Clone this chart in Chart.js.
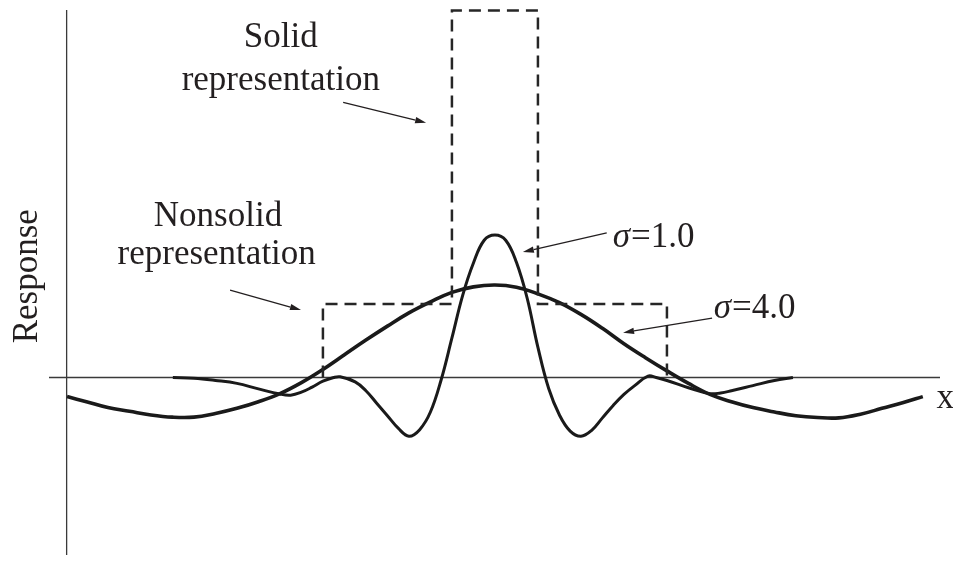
<!DOCTYPE html>
<html>
<head>
<meta charset="utf-8">
<script src="https://cdn.jsdelivr.net/npm/chart.js@4/dist/chart.umd.min.js"></script>
<style>
  html, body { margin: 0; padding: 0; background: #fff; }
  #chart { display: block; }
</style>
</head>
<body>
<canvas id="chart" width="953" height="561"></canvas>
<script>
// Réponse du filtre pour sigma = 4.0 (courbe large)
const sigma4X = [-9.95, -9.5, -9.0, -8.5, -8.0, -7.5, -7.0, -6.5, -6.0, -5.5, -5.0, -4.5, -4.0, -3.5, -3.0, -2.5,
                 -2.0, -1.5, -1.0, -0.5, 0, 0.5, 1.0, 1.5, 2.0, 2.5, 3.0, 3.5, 4.0, 4.5, 5.0, 5.5, 6.0, 6.5, 7.0,
                 7.5, 8.0, 8.5, 9.0, 9.5, 9.95];
const sigma4Y = [-0.26, -0.33, -0.41, -0.46, -0.51, -0.54, -0.54, -0.49, -0.42, -0.33, -0.22, -0.07, 0.11, 0.31,
                 0.51, 0.70, 0.88, 1.03, 1.16, 1.235, 1.26, 1.23, 1.14, 1.02, 0.86, 0.67, 0.46, 0.27, 0.09, -0.08,
                 -0.23, -0.33, -0.41, -0.47, -0.52, -0.545, -0.55, -0.50, -0.42, -0.34, -0.26];

// Réponse du filtre pour sigma = 1.0 (courbe étroite)
const sigma1X = [-7.49, -7.0, -6.5, -6.0, -5.5, -5.0, -4.75, -4.5, -4.25, -4.0, -3.75, -3.6, -3.25, -3.0, -2.75,
                 -2.5, -2.25, -2.0, -1.75, -1.5, -1.25, -1.0, -0.75, -0.5, -0.25, 0, 0.25, 0.5, 0.75, 1.0, 1.25,
                 1.5, 1.75, 2.0, 2.25, 2.5, 2.75, 3.0, 3.25, 3.56, 3.75, 4.0, 4.5, 5.0, 5.25, 5.5, 6.0, 6.5, 6.93];
const sigma1Y = [0.00, -0.01, -0.04, -0.08, -0.155, -0.225, -0.24, -0.20, -0.13, -0.05, 0.00, 0.01, -0.06, -0.18,
                 -0.35, -0.52, -0.69, -0.80, -0.71, -0.47, -0.03, 0.54, 1.12, 1.56, 1.87, 1.94, 1.87, 1.57, 1.08,
                 0.41, -0.15, -0.51, -0.73, -0.80, -0.72, -0.55, -0.38, -0.23, -0.11, 0.02, 0.00, -0.04, -0.14,
                 -0.22, -0.21, -0.18, -0.11, -0.04, 0.00];

// Contour en tirets : représentation solide (étroite) + non solide (large)
const outlineX = [-4, -4, -1, -1, 1, 1, 4, 4];
const outlineY = [0, 1, 1, 5, 5, 1, 1, 0];

const Y_AXIS_AT = -9.96;
const INK = '#231f20';
const FONT = 'Liberation Serif, "Times New Roman", serif';

const toPoints = (xs, ys) => xs.map((x, i) => ({ x: x, y: ys[i] }));

// Textes et flèches, en coordonnées de données
const notes = [
    { text: 'Solid', x: -4.98, y: 4.50 },
    { text: 'representation', x: -4.98, y: 3.92 },
    { text: 'Nonsolid', x: -6.44, y: 2.06 },
    { text: 'representation', x: -6.47, y: 1.54 },
    { sigma: '=1.0', x: 2.74, y: 1.78 },
    { sigma: '=4.0', x: 5.09, y: 0.81 },
    { text: 'x', x: 10.47, y: -0.42 },
];
const arrows = [
    { from: [-3.53, 3.75], to: [-1.60, 3.47] },
    { from: [-6.16, 1.19], to: [-4.51, 0.92] },
    { from: [2.60, 1.97], to: [0.65, 1.71] },
    { from: [5.05, 0.81], to: [2.98, 0.61] },
];

const axisLines = {
    id: 'axisLines',
    beforeDatasetsDraw(chart) {
        const { ctx, chartArea, scales: { x, y } } = chart;
        const y0 = y.getPixelForValue(0);
        const xa = x.getPixelForValue(Y_AXIS_AT);
        ctx.save();
        ctx.strokeStyle = '#3a3a3a';
        ctx.lineWidth = 1.3;
        ctx.beginPath();
        ctx.moveTo(chartArea.left, y0);
        ctx.lineTo(chartArea.right, y0);
        ctx.moveTo(xa, chartArea.top);
        ctx.lineTo(xa, chartArea.bottom);
        ctx.stroke();
        ctx.restore();
    },
};

const annotations = {
    id: 'annotations',
    afterDatasetsDraw(chart) {
        const { ctx, scales: { x, y } } = chart;
        ctx.save();
        ctx.fillStyle = INK;
        ctx.strokeStyle = INK;
        ctx.textBaseline = 'alphabetic';

        notes.forEach(n => {
            const px = x.getPixelForValue(n.x);
            const py = y.getPixelForValue(n.y);
            if (n.sigma) {
                ctx.textAlign = 'left';
                ctx.font = 'italic 35px ' + FONT;
                ctx.fillText('σ', px, py);
                const w = ctx.measureText('σ').width;
                ctx.font = '35px ' + FONT;
                ctx.fillText(n.sigma, px + w + 1, py);
            } else {
                ctx.textAlign = 'center';
                ctx.font = '35px ' + FONT;
                ctx.fillText(n.text, px, py);
            }
        });

        // titre vertical
        ctx.save();
        ctx.translate(x.getPixelForValue(-10.65), y.getPixelForValue(1.38));
        ctx.rotate(-Math.PI / 2);
        ctx.textAlign = 'center';
        ctx.font = '35px ' + FONT;
        ctx.fillText('Response', 0, 0);
        ctx.restore();

        ctx.lineWidth = 1.3;
        arrows.forEach(a => {
            const x1 = x.getPixelForValue(a.from[0]), y1 = y.getPixelForValue(a.from[1]);
            const x2 = x.getPixelForValue(a.to[0]), y2 = y.getPixelForValue(a.to[1]);
            const ang = Math.atan2(y2 - y1, x2 - x1);
            const len = 11, half = 3.2;
            const bx = x2 - len * Math.cos(ang), by = y2 - len * Math.sin(ang);
            ctx.beginPath();
            ctx.moveTo(x1, y1);
            ctx.lineTo(bx, by);
            ctx.stroke();
            ctx.beginPath();
            ctx.moveTo(x2, y2);
            ctx.lineTo(bx + half * Math.sin(ang), by - half * Math.cos(ang));
            ctx.lineTo(bx - half * Math.sin(ang), by + half * Math.cos(ang));
            ctx.closePath();
            ctx.fill();
        });
        ctx.restore();
    },
};

new Chart(document.getElementById('chart'), {
    type: 'line',
    data: {
        datasets: [
            {
                data: toPoints(outlineX, outlineY),
                borderColor: '#262626',
                borderWidth: 2.5,
                borderDash: [12, 7],
                tension: 0,
                clip: false,
            },
            {
                data: toPoints(sigma4X, sigma4Y),
                borderColor: '#1a1a1a',
                borderWidth: 3.6,
                tension: 0.4,
                clip: false,
            },
            {
                data: toPoints(sigma1X, sigma1Y),
                borderColor: '#1a1a1a',
                borderWidth: 3,
                tension: 0.4,
                clip: false,
            },
        ],
    },
    options: {
        responsive: false,
        animation: false,
        layout: { padding: { left: 49, right: 13, top: 10, bottom: 6 } },
        elements: { point: { radius: 0 } },
        plugins: { legend: { display: false }, tooltip: { enabled: false } },
        scales: {
            x: { type: 'linear', min: -10.37, max: 10.35, display: false },
            y: { type: 'linear', min: -2.418, max: 5.007, display: false },
        },
    },
    plugins: [axisLines, annotations],
});
</script>
</body>
</html>
